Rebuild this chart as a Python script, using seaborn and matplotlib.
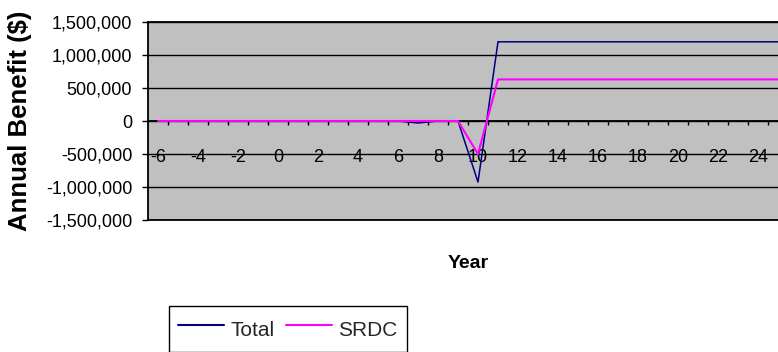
import pandas as pd
import matplotlib
matplotlib.use("Agg")
import matplotlib.pyplot as plt
import seaborn as sns
from matplotlib.ticker import FuncFormatter

# chart values
years = [-6, -5, -4, -3, -2, -1, 0, 1, 2, 3, 4, 5, 6, 7, 8, 9, 10,
         11, 12, 13, 14, 15, 16, 17, 18, 19, 20, 21, 22, 23, 24, 25]
total = [0, 0, 0, 0, 0, 0, 0, 0, 0, 0, 0, 0, 0, -30000, 0, 0, -925000,
         1200000, 1200000, 1200000, 1200000, 1200000, 1200000, 1200000,
         1200000, 1200000, 1200000, 1200000, 1200000, 1200000, 1200000, 1200000]
srdc = [0, 0, 0, 0, 0, 0, 0, 0, 0, 0, 0, 0, 0, 0, 0, 0, -500000,
        630000, 630000, 630000, 630000, 630000, 630000, 630000,
        630000, 630000, 630000, 630000, 630000, 630000, 630000, 630000]
yticks = [-1500000, -1000000, -500000, 0, 500000, 1000000, 1500000]
xlabels = [-6, -4, -2, 0, 2, 4, 6, 8, 10, 12, 14, 16, 18, 20, 22, 24]

df = pd.DataFrame({"Year": years * 2,
                   "Benefit": total + srdc,
                   "Series": ["Total"] * len(years) + ["SRDC"] * len(years)})

sns.set_theme(style="white")
plt.rcParams["font.family"] = ["Liberation Sans", "DejaVu Sans"]

fig = plt.figure(figsize=(7.78, 3.52), dpi=100)
ax = fig.add_axes([148 / 778, 1 - 220 / 352, 640 / 778, 198 / 352])
ax.set_facecolor("#C0C0C0")

sns.lineplot(data=df, x="Year", y="Benefit", hue="Series",
             palette={"Total": "#000080", "SRDC": "#FF00FF"},
             hue_order=["Total", "SRDC"], ax=ax, legend=True)
for line, lw in zip(ax.get_lines(), [1.1, 1.5]):
    line.set_linewidth(lw)

ax.set_xlim(-6.5, 25.5)
ax.set_ylim(-1500000, 1500000)
ax.set_yticks(yticks)
ax.yaxis.set_major_formatter(FuncFormatter(lambda v, p: f"{int(v):,}"))
ax.grid(axis="y", color="black", linewidth=1.0)
ax.grid(axis="x", visible=False)
for sp in ax.spines.values():
    sp.set_color("black")
    sp.set_linewidth(1.3)
ax.tick_params(axis="y", left=True, direction="out", length=4.3, width=1,
               color="black", pad=7, labelsize=13, labelcolor="black")
ax.tick_params(axis="x", bottom=False, labelbottom=False)

# category axis crossing at zero
sec = ax.secondary_xaxis(0.5)
sec.set_alignment("bottom")
sec.set_xticks(xlabels)
sec.set_xticklabels([str(v) for v in xlabels])
sec.set_xticks([y + 0.5 for y in years[:-1]], minor=True)
sec.tick_params(which="major", length=0, pad=20, labelsize=13, labelcolor="black")
sec.tick_params(which="minor", length=3, width=1, direction="out", color="black")
sec.spines["bottom"].set_color("black")
sec.spines["bottom"].set_linewidth(1.3)

ax.set_xlabel("Year", fontsize=14, fontweight="bold", labelpad=25, color="black")
ax.set_ylabel("Annual Benefit ($)", fontsize=18.5, fontweight="bold", color="black")
ax.yaxis.set_label_coords(-0.182, 0.5)

handles, labels = ax.get_legend_handles_labels()
ax.legend(handles, labels, loc="upper left", bbox_to_anchor=(169 / 778, 1 - 306 / 352),
          bbox_transform=fig.transFigure, ncol=2, fontsize=15, frameon=True,
          fancybox=False, edgecolor="black", framealpha=1, borderaxespad=0,
          handlelength=2.2, handleheight=1.6, handletextpad=0.3,
          columnspacing=0.55, borderpad=0.45)
leg = ax.get_legend()
leg.get_frame().set_linewidth(1.0)
for h in leg.get_lines():
    h.set_linewidth(1.5)

fig.savefig("out.png", dpi=100)
